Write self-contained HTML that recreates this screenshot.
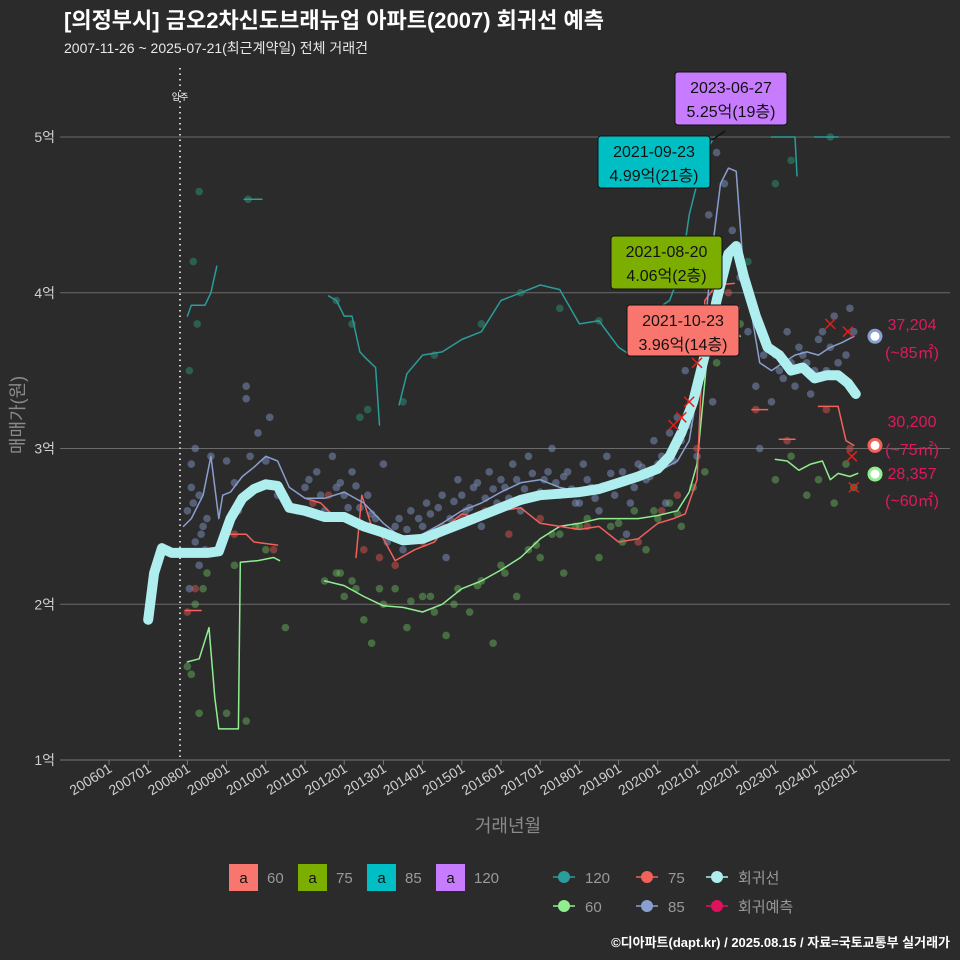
<!DOCTYPE html>
<html><head><meta charset="utf-8">
<style>
html,body{margin:0;padding:0;background:#2b2b2c;}
svg{display:block;font-family:"Liberation Sans","Noto Sans CJK KR",sans-serif;}
</style></head>
<body>
<svg id="chart" width="960" height="960" viewBox="0 0 960 960">
<rect width="960" height="960" fill="#2b2b2c"/>
<text x="64" y="28" fill="#ffffff" font-size="22" font-weight="bold">[의정부시] 금오2차신도브래뉴업 아파트(2007) 회귀선 예측</text>
<text x="64" y="53" fill="#e8e8e8" font-size="14">2007-11-26 ~ 2025-07-21(최근계약일) 전체 거래건</text>
<g id="grid"></g>
<g id="axes"></g>
<g id="series"></g>
<g id="labels"></g>
<text transform="translate(24,415) rotate(-90)" text-anchor="middle" fill="#8a8a8a" font-size="18">매매가(원)</text>
<text x="508" y="832" text-anchor="middle" fill="#8a8a8a" font-size="18">거래년월</text>
<g id="legend"></g>
<text x="950" y="947" text-anchor="end" fill="#ffffff" font-size="13" font-weight="bold">©디아파트(dapt.kr) / 2025.08.15 / 자료=국토교통부 실거래가</text>
</svg>
<script>
const yTicks=[1,2,3,4,5];
const yTickLabels=["1억","2억","3억","4억","5억"];
const xTickYears=[2006,2007,2008,2009,2010,2011,2012,2013,2014,2015,2016,2017,2018,2019,2020,2021,2022,2023,2024,2025];
const xTickLabels=["200601","200701","200801","200901","201001","201101","201201","201301","201401","201501","201601","201701","201801","201901","202001","202101","202201","202301","202401","202501"];
const regT=[2007.0,2007.15,2007.35,2007.6,2008.0,2008.5,2008.8,2009.1,2009.4,2009.7,2010.0,2010.3,2010.6,2011.0,2011.5,2012.0,2012.5,2013.0,2013.5,2014.0,2014.5,2015.0,2015.5,2016.0,2016.5,2017.0,2017.5,2018.0,2018.5,2019.0,2019.5,2020.0,2020.3,2020.6,2020.9,2021.2,2021.5,2021.8,2022.0,2022.2,2022.5,2022.8,2023.1,2023.4,2023.7,2024.0,2024.3,2024.6,2024.85,2025.05];
const regV=[1.9,2.2,2.36,2.33,2.33,2.33,2.34,2.55,2.68,2.74,2.77,2.76,2.62,2.6,2.56,2.56,2.5,2.46,2.41,2.42,2.47,2.52,2.57,2.62,2.67,2.7,2.71,2.72,2.74,2.78,2.82,2.87,2.95,3.1,3.3,3.6,3.95,4.25,4.3,4.1,3.85,3.65,3.6,3.5,3.52,3.45,3.47,3.47,3.42,3.35];
const l85T=[2007.9,2008.1,2008.4,2008.6,2008.8,2008.9,2009.1,2009.4,2009.7,2010.0,2010.3,2010.6,2011.0,2011.5,2012.0,2012.5,2013.0,2013.5,2014.0,2014.5,2015.0,2015.5,2016.0,2016.5,2017.0,2017.5,2018.0,2018.5,2019.0,2019.5,2020.0,2020.5,2020.8,2021.1,2021.4,2021.6,2021.8,2022.0,2022.2,2022.4,2022.6,2022.9,2023.2,2023.5,2023.8,2024.1,2024.4,2024.7,2025.0];
const l85V=[2.5,2.55,2.7,2.95,2.55,2.7,2.72,2.82,2.88,2.95,2.92,2.75,2.68,2.68,2.72,2.65,2.52,2.42,2.45,2.52,2.6,2.65,2.72,2.78,2.8,2.75,2.72,2.73,2.78,2.8,2.85,2.92,3.05,3.5,4.3,4.7,4.8,4.78,4.1,3.85,3.55,3.5,3.55,3.6,3.62,3.6,3.65,3.68,3.72];
const l60T=[2008.0,2008.3,2008.55,2008.7,2008.8,2008.95,2009.3,2009.35,2009.8,2010.2,2010.35,null,2011.5,2012.0,2012.5,2013.0,2013.5,2014.0,2014.5,2015.0,2015.5,2016.0,2016.5,2017.0,2017.5,2018.0,2018.5,2019.0,2019.5,2020.0,2020.5,2020.8,2021.0,2021.3,2021.6,2021.9,2022.1,null,2023.0,2023.3,2023.6,2023.9,2024.2,2024.4,2024.6,2024.9,2025.1];
const l60V=[1.63,1.65,1.85,1.4,1.2,1.2,1.2,2.27,2.28,2.3,2.28,null,2.15,2.12,2.05,1.99,1.98,1.95,2.0,2.1,2.15,2.22,2.3,2.42,2.5,2.52,2.55,2.55,2.55,2.57,2.6,2.72,2.9,3.7,3.75,3.8,3.72,null,2.93,2.92,2.86,2.9,2.92,2.8,2.84,2.82,2.84];
const l75T=[2007.95,2008.35,null,2009.0,2009.5,2009.7,2010.3,null,2011.0,2011.4,2011.6,2011.8,null,2012.3,2012.45,2012.7,2013.0,2013.3,2013.8,2014.3,2014.6,2015.0,2015.5,2016.0,2016.5,2017.0,2017.5,2018.0,2018.5,2019.0,2019.5,2020.0,2020.4,2020.7,2021.0,2021.2,2021.5,2021.95,null,2022.4,2022.8,null,2023.1,2023.5,null,2024.1,2024.6,2024.8,2025.0];
const l75V=[1.96,1.96,null,2.45,2.45,2.4,2.38,null,2.68,2.65,2.6,2.55,null,2.3,2.7,2.5,2.42,2.28,2.35,2.4,2.5,2.58,2.55,2.6,2.62,2.52,2.5,2.48,2.5,2.4,2.42,2.52,2.55,2.58,2.8,3.95,4.05,4.06,null,3.25,3.25,null,3.06,3.06,null,3.27,3.27,3.05,3.02];
const l120T=[2008.0,2008.1,2008.45,2008.6,2008.75,null,2009.45,2009.9,null,2011.6,2011.8,2012.0,2012.2,2012.4,2012.55,2012.8,2012.9,null,2013.4,2013.6,2014.0,2014.5,2015.0,2015.5,2016.0,2016.5,2017.0,2017.5,2018.0,2018.5,2019.0,2019.3,2019.7,2020.0,2020.3,2020.6,2020.8,2021.0,2021.2,2021.45,null,2022.9,2023.2,2023.5,2023.55,null,2024.0,2024.6];
const l120V=[3.85,3.92,3.92,4.0,4.17,null,4.6,4.6,null,3.98,3.95,3.85,3.85,3.62,3.58,3.52,3.15,null,3.28,3.48,3.6,3.62,3.7,3.75,3.95,4.0,4.05,4.02,3.8,3.82,3.65,3.6,3.8,3.9,3.95,4.15,4.5,4.7,4.9,5.0,null,5.0,5.0,5.0,4.75,null,5.0,5.0];
const s85T=[2008.0,2008.1,2008.1,2008.2,2008.3,2008.4,2008.5,2008.2,2008.3,2008.05,2008.6,2009.0,2009.2,2009.3,2009.5,2009.6,2009.8,2010.1,2010.3,2010.8,2011.0,2011.3,2011.5,2011.7,2012.0,2012.2,2012.4,2012.6,2012.8,2013.0,2013.2,2013.4,2013.5,2013.7,2014.0,2014.1,2014.3,2014.5,2014.7,2014.9,2015.1,2015.3,2015.5,2015.7,2015.9,2016.1,2016.3,2016.5,2016.7,2016.9,2017.1,2017.3,2017.5,2017.7,2017.9,2018.1,2018.3,2018.5,2018.7,2018.9,2019.1,2019.3,2019.5,2019.7,2019.9,2020.1,2020.3,2020.5,2020.7,2020.9,2021.1,2021.3,2021.5,2021.7,2021.9,2022.1,2022.3,2022.5,2022.7,2022.9,2023.1,2023.3,2023.5,2023.7,2023.9,2024.1,2024.3,2024.5,2024.7,2024.9,2009.5,2010.0,2011.8,2013.1,2014.6,2016.0,2017.2,2018.0,2019.2,2020.2,2021.0,2022.0,2022.6,2023.4,2024.2,
2011.1,2011.4,2011.9,2012.1,2012.3,2012.7,2013.3,2013.6,2013.9,2014.2,2014.4,2014.8,2015.0,2015.2,2015.4,2015.6,2015.8,2016.2,2016.4,2016.6,2016.8,2017.0,2017.4,2017.6,2017.8,2018.2,2018.4,2018.6,2018.8,2019.0,2019.4,2019.6,2019.8,2020.0,2020.4,2020.6,2020.8,2021.2,2021.4,2023.0,2023.2,2023.6,2023.8,2024.0,2024.4,2024.6,2024.8,2025.0,2008.15,2008.35,2008.45];
const s85V=[2.6,2.75,2.9,3.0,2.7,2.5,2.55,2.4,2.25,2.1,2.95,2.92,2.78,2.6,3.4,2.95,3.1,3.2,2.7,2.6,2.75,2.85,2.6,2.95,2.7,2.85,2.62,2.7,2.55,2.9,2.45,2.55,2.35,2.6,2.5,2.65,2.45,2.7,2.55,2.8,2.6,2.75,2.5,2.85,2.65,2.75,2.9,2.6,2.95,2.7,2.8,3.0,2.7,2.85,2.65,2.9,2.75,2.6,2.95,2.7,2.85,2.65,2.9,2.8,3.05,2.95,3.1,3.2,3.5,3.8,4.1,4.5,4.9,4.7,4.4,4.1,3.75,3.4,3.6,3.3,3.5,3.75,3.4,3.6,3.35,3.7,3.5,3.85,3.45,3.9,3.32,2.92,2.75,2.4,2.3,2.8,2.85,2.65,2.45,2.65,2.95,3.9,3.0,3.55,3.75,
2.8,2.7,2.78,2.62,2.76,2.58,2.5,2.48,2.55,2.58,2.62,2.66,2.7,2.62,2.78,2.68,2.74,2.68,2.8,2.74,2.84,2.72,2.78,2.82,2.74,2.8,2.68,2.76,2.84,2.78,2.75,2.88,2.82,2.9,2.92,3.05,3.15,3.7,3.3,3.6,3.45,3.65,3.55,3.5,3.65,3.55,3.6,3.75,2.65,2.45,2.35];
const s60T=[2008.0,2008.1,2008.2,2008.3,2008.4,2008.5,2009.0,2009.2,2009.5,2010.0,2010.5,2011.5,2011.8,2012.0,2012.3,2012.5,2012.7,2013.0,2013.3,2013.6,2014.0,2014.3,2014.6,2014.9,2015.2,2015.5,2015.8,2016.1,2016.4,2016.7,2017.0,2017.3,2017.6,2017.9,2018.2,2018.5,2018.8,2019.1,2019.4,2019.7,2020.0,2020.3,2020.6,2020.9,2021.2,2021.5,2021.9,2022.1,2023.0,2023.4,2023.8,2024.1,2024.5,2024.8,2025.0,
2011.9,2012.2,2012.9,2013.7,2014.2,2014.8,2015.4,2016.0,2016.9,2017.5,2018.0,2019.0,2019.9,2020.5];
const s60V=[1.6,1.55,2.0,1.3,2.1,2.2,1.3,2.25,1.25,2.35,1.85,2.15,2.2,2.05,2.1,1.9,1.75,2.0,2.1,1.85,2.05,1.95,1.8,2.1,1.95,2.15,1.75,2.2,2.05,2.35,2.3,2.45,2.2,2.5,2.55,2.3,2.5,2.4,2.6,2.35,2.55,2.65,2.5,2.75,2.85,3.55,3.7,3.8,2.8,2.95,2.7,2.8,2.65,2.9,2.75,
2.2,2.15,2.1,2.02,2.05,2.0,2.12,2.25,2.38,2.45,2.5,2.52,2.6,2.58];
const s75T=[2008.0,2008.2,2009.2,2010.2,2011.2,2011.6,2012.5,2012.9,2013.3,2014.0,2014.5,2015.0,2015.6,2016.2,2017.0,2018.2,2019.5,2020.1,2020.5,2021.0,2021.8,2022.5,2023.3,2024.3,2024.9];
const s75V=[1.95,2.1,2.45,2.35,2.65,2.7,2.35,2.3,2.25,2.4,2.5,2.55,2.6,2.45,2.55,2.5,2.4,2.6,2.7,3.0,4.0,3.25,3.05,3.25,3.0];
const s120T=[2008.05,2008.15,2008.25,2008.3,2009.55,2011.8,2012.2,2012.4,2012.6,2013.5,2014.3,2015.5,2016.5,2017.5,2018.5,2019.5,2020.5,2021.0,2022.3,2022.8,2023.0,2023.4,2024.4];
const s120V=[3.5,4.2,3.8,4.65,4.6,3.95,3.8,3.2,3.25,3.3,3.6,3.8,4.0,3.9,3.82,3.7,4.1,4.75,4.2,5.25,4.7,4.85,5.0];
const predT=[2020.4,2020.6,2020.8,2021.0,2021.3,2024.4,2024.85,2024.95,2025.0];
const predV=[3.15,3.2,3.3,3.55,4.05,3.8,3.75,2.95,2.75];
const endV=[3.7204,3.02,2.8357];

const NS="http://www.w3.org/2000/svg";
const X=t=>109+(t-2006)*39.2;
const Y=v=>760-(v-1)*155.75;
function el(tag,attrs,parent){const e=document.createElementNS(NS,tag);for(const k in attrs)e.setAttribute(k,attrs[k]);parent.appendChild(e);return e;}
const grid=document.getElementById('grid'),axes=document.getElementById('axes'),series=document.getElementById('series'),labels=document.getElementById('labels'),legend=document.getElementById('legend');

yTicks.forEach((v,i)=>{
  if(v>1){const g=el('line',{x1:60,x2:950,y1:Y(v),y2:Y(v),stroke:'#6a6a6a','stroke-width':1},grid);
  
  }
  const t=el('text',{x:55,y:Y(v)+5,'text-anchor':'end',fill:'#cfcfcf','font-size':14},axes);t.textContent=yTickLabels[i];
  
  
});
const ax=el('line',{x1:60,x2:950,y1:760,y2:760,stroke:'#777','stroke-width':1},axes);


xTickYears.forEach((yr,i)=>{
  const x=X(yr);
  el('line',{x1:x,x2:x,y1:760,y2:765,stroke:'#777'},axes);
  const t=el('text',{transform:`translate(${x+4},771) rotate(-32)`,'text-anchor':'end',fill:'#d0d0d0','font-size':14},axes);t.textContent=xTickLabels[i];
  
  
});
const mv=el('line',{x1:180,x2:180,y1:68,y2:760,stroke:'#cccccc','stroke-width':2,'stroke-dasharray':'1.5 4'},axes);


const mt=el('text',{x:180,y:100,'text-anchor':'middle',fill:'#fff','font-size':9},axes);mt.textContent='입주';



function dots(T,V,color,op,name){T.forEach((t,i)=>{const c=el('circle',{cx:X(t),cy:Y(V[i]),r:3.8,fill:color,'fill-opacity':op},series);
  
  });}
function line(T,V,color,w,name){let d='',m=true;T.forEach((t,i)=>{if(t===null){m=true;return;}d+=(m?'M':'L')+X(t).toFixed(1)+','+Y(V[i]).toFixed(1);m=false;});
  const p=el('path',{d:d,fill:'none',stroke:color,'stroke-width':w,'stroke-linejoin':'round','stroke-linecap':'round'},series);
  
  }
dots(s120T,s120V,'#2e8b6e',0.55,'scatter-120');
dots(s60T,s60V,'#6fbf5f',0.45,'scatter-60');
dots(s75T,s75V,'#d9534f',0.5,'scatter-75');
dots(s85T,s85V,'#7f93bd',0.5,'scatter-85');
line(l120T,l120V,'#2a9d9a',1.5,'line-120');
line(l60T,l60V,'#90ee90',1.5,'line-60');
line(l75T,l75V,'#f0625a',1.5,'line-75');
line(l85T,l85V,'#8a9fcf',1.5,'line-85');
line(regT,regV,'#aeeeee',10,'regression-line');
predT.forEach((t,i)=>{const x=X(t),y=Y(predV[i]);
  const p=el('path',{d:`M${x-5},${y-5}L${x+5},${y+5}M${x+5},${y-5}L${x-5},${y+5}`,stroke:'#e0201a','stroke-width':1.5},series);
  
  });
const endCols=['#8a9fcf','#f0625a','#90ee90'];
endV.forEach((v,i)=>{const c=el('circle',{cx:875,cy:Y(v),r:6,fill:'#fff',stroke:endCols[i],'stroke-width':3},series);
  
  });

const boxes=[
 {x:675,y:72,w:112,h:53,c:'#c77cff',a:'2023-06-27',b:'5.25억(19층)',n:'annotation-120'},
 {x:598,y:136,w:112,h:52,c:'#00bfc4',a:'2021-09-23',b:'4.99억(21층)',n:'annotation-85'},
 {x:611,y:236,w:111,h:53,c:'#7cae00',a:'2021-08-20',b:'4.06억(2층)',n:'annotation-75'},
 {x:627,y:305,w:112,h:51,c:'#f8766d',a:'2021-10-23',b:'3.96억(14층)',n:'annotation-60'}];
boxes.forEach(o=>{const g=el('g',{},labels);
  
  
  el('rect',{x:o.x,y:o.y,width:o.w,height:o.h,rx:3,fill:o.c,stroke:'#111','stroke-width':1},g);
  el('text',{x:o.x+o.w/2,y:o.y+21,'text-anchor':'middle','font-size':16,fill:'#111'},g).textContent=o.a;
  el('text',{x:o.x+o.w/2,y:o.y+45,'text-anchor':'middle','font-size':16,fill:'#111'},g).textContent=o.b;});
el('line',{x1:712,y1:140,x2:725,y2:131,stroke:'#111','stroke-width':1.5},labels);
const rl=[[912,330,'37,204'],[912,358,'(~85㎡)'],[912,427,'30,200'],[912,455,'(~75㎡)'],[912,479,'28,357'],[912,506,'(~60㎡)']];
rl.forEach(r=>{const t=el('text',{x:r[0],y:r[1],'text-anchor':'middle','font-size':16,fill:'#e0195f'},labels);t.textContent=r[2];
  
  });

const lg=[['#f8766d','60',229],['#7cae00','75',298],['#00bfc4','85',367],['#c77cff','120',436]];
lg.forEach(l=>{const g=el('g',{},legend);
  
  
  el('rect',{x:l[2],y:864,width:29,height:27,fill:l[0]},g);
  el('text',{x:l[2]+14.5,y:883,'text-anchor':'middle','font-size':15,fill:'#111'},g).textContent='a';
  el('text',{x:l[2]+38,y:883,'font-size':15,fill:'#999'},g).textContent=l[1];});
const lp=[['#2a9d9a','120',553,877],['#f0625a','75',636,877],['#aeeeee','회귀선',706,877],['#90ee90','60',553,906],['#8a9fcf','85',636,906],['#e0115f','회귀예측',706,906]];
lp.forEach(l=>{const g=el('g',{},legend);
  
  
  el('line',{x1:l[2],x2:l[2]+22,y1:l[3],y2:l[3],stroke:l[0],'stroke-width':1.5},g);
  el('circle',{cx:l[2]+11,cy:l[3],r:6,fill:l[0]},g);
  el('text',{x:l[2]+32,y:l[3]+6,'font-size':15,fill:'#999'},g).textContent=l[1];});
</script>
</body></html>
